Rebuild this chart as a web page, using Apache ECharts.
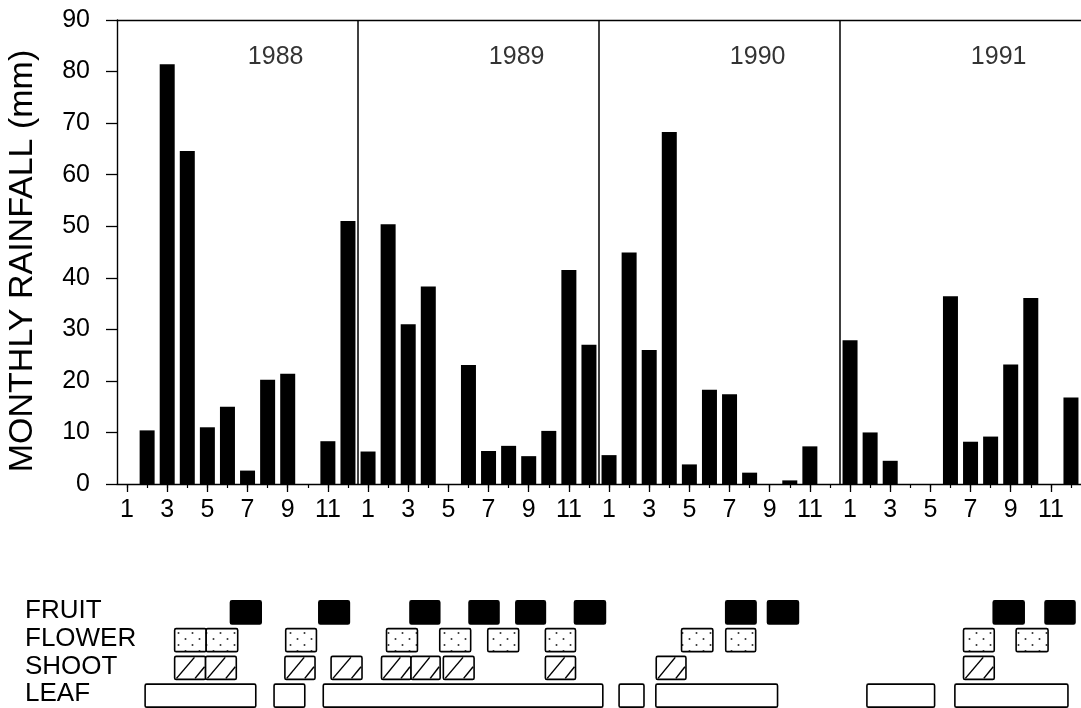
<!DOCTYPE html>
<html>
<head>
<meta charset="utf-8">
<title>Monthly rainfall and phenology 1988-1991</title>
<script src="https://cdn.jsdelivr.net/npm/echarts@6/dist/echarts.min.js"></script>
<style>
  html, body { margin: 0; padding: 0; background: #fff; }
  #chart { width: 1081px; height: 708px; }
</style>
</head>
<body>
<div id="chart"></div>
<script>
// ---- data ----
const years = ['1988', '1989', '1990', '1991'];
const months = ['1', '2', '3', '4', '5', '6', '7', '8', '9', '10', '11', '12'];
const yTicks = [0, 10, 20, 30, 40, 50, 60, 70, 80, 90];

// monthly rainfall (mm)
const rain1988 = [0, 10.4, 81.4, 64.6, 11.0, 15.0, 2.6, 20.2, 21.4, 0, 8.3, 51.0];
const rain1989 = [6.3, 50.4, 31.0, 38.3, 0, 23.1, 6.4, 7.4, 5.4, 10.3, 41.5, 27.0];
const rain1990 = [5.6, 44.9, 26.0, 68.3, 3.8, 18.3, 17.4, 2.2, 0, 0.7, 7.3, 0];
const rain1991 = [27.9, 10.0, 4.5, 0, 0, 36.4, 8.2, 9.2, 23.2, 36.1, 0, 16.8];

// phenology rows and their periods, in months counted from the start of Jan 1988
const phenoRows = ['FRUIT', 'FLOWER', 'SHOOT', 'LEAF'];
const fruitPeriods = [[5.65, 7.18], [10.05, 11.57], [14.59, 16.07], [17.53, 19.02], [19.86, 21.33],
  [22.78, 24.32], [30.31, 31.82], [32.39, 33.93], [43.63, 45.17], [46.21, 47.70]];
const flowerPeriods = [[2.87, 4.44], [4.44, 6.01], [8.40, 9.93], [13.42, 14.96], [16.07, 17.61],
  [18.46, 20.00], [21.33, 22.83], [28.11, 29.67], [30.31, 31.80], [42.15, 43.68], [44.77, 46.36]];
const shootPeriods = [[2.87, 4.41], [4.41, 5.94], [8.36, 9.86], [10.66, 12.20], [13.17, 14.64],
  [14.64, 16.09], [16.25, 17.78], [21.33, 22.83], [26.85, 28.33], [42.15, 43.68]];
const leafPeriods = [[1.40, 6.91], [7.82, 9.35], [10.27, 24.19], [25.00, 26.24], [26.83, 32.89],
  [37.34, 40.71], [41.72, 47.35]];

// ---- derived series ----
const categories = [];
years.forEach(y => months.forEach(m => categories.push(y + '-' + m)));
const rainfall = [].concat(rain1988, rain1989, rain1990, rain1991);
const phenoData = [];
[fruitPeriods, flowerPeriods, shootPeriods, leafPeriods].forEach((list, row) => {
  list.forEach(p => phenoData.push([p[0], p[1], row]));
});
const yearLabels = years.map((y, i) => ({ value: [i * 12 + 7.9, 82.8], name: y }));
const yearBreaks = years.slice(1).map((y, i) => ({ xAxis: (i + 1) * 12 }));

// ---- styles ----
const FONT = '"Liberation Sans", Arial, Helvetica, sans-serif';
const INK = '#000';

// stipple pattern for flowering
const dotCanvas = document.createElement('canvas');
dotCanvas.width = 14; dotCanvas.height = 12;
(function () {
  const c = dotCanvas.getContext('2d');
  c.fillStyle = '#fff';
  c.fillRect(0, 0, 14, 12);
  c.fillStyle = '#333';
  c.beginPath(); c.arc(3.5, 3, 1, 0, Math.PI * 2); c.fill();
  c.beginPath(); c.arc(10.5, 9, 1, 0, Math.PI * 2); c.fill();
})();

function renderPheno(params, api) {
  const row = api.value(2);
  const a = api.coord([api.value(0), row]);
  const b = api.coord([api.value(1), row]);
  const h = 23;
  const x0 = a[0], w = b[0] - a[0];
  const y0 = a[1] - h / 2 + 1.5, y1 = y0 + h;
  const kids = [];
  let fill = '#fff';
  if (row === 0) fill = INK;
  if (row === 1) fill = { image: dotCanvas, repeat: 'repeat' };
  kids.push({
    type: 'rect',
    shape: { x: x0, y: y0, width: w, height: h, r: 1.5 },
    style: { fill: fill, stroke: INK, lineWidth: 1.6 }
  });
  if (row === 2) {
    // two diagonal hatch strokes
    kids.push({
      type: 'line',
      shape: { x1: x0 + 0.06 * w, y1: y1 - 1, x2: x0 + 0.64 * w, y2: y0 + 1 },
      style: { stroke: INK, lineWidth: 1.5 }
    });
    kids.push({
      type: 'line',
      shape: { x1: x0 + 0.66 * w, y1: y1 - 1, x2: x0 + w - 1, y2: y1 - 0.55 * h },
      style: { stroke: INK, lineWidth: 1.5 }
    });
  }
  return { type: 'group', children: kids };
}

const chart = echarts.init(document.getElementById('chart'), null, { renderer: 'canvas' });

const option = {
  backgroundColor: '#fff',
  animation: false,
  textStyle: { fontFamily: FONT, color: INK },
  grid: [
    { left: 117, top: 20, width: 969, height: 464 },
    { left: 117, top: 597, width: 969, height: 111 }
  ],
  xAxis: [
    { // month axis with labels on odd months
      type: 'category', gridIndex: 0, data: categories, position: 'bottom',
      axisLine: { show: true, lineStyle: { color: INK, width: 1.4 } },
      axisTick: { show: true, alignWithLabel: true, length: 8, interval: i => i % 2 === 0,
        lineStyle: { color: INK, width: 1.3 } },
      axisLabel: { interval: i => i % 2 === 0, formatter: v => v.split('-')[1],
        fontSize: 25, color: INK, fontFamily: FONT, margin: 14 },
      splitLine: { show: false }
    },
    { // short ticks for every month
      type: 'category', gridIndex: 0, data: categories, position: 'bottom',
      axisLine: { show: false },
      axisTick: { show: true, alignWithLabel: true, length: 4, interval: 0,
        lineStyle: { color: INK, width: 1.2 } },
      axisLabel: { show: false }, splitLine: { show: false }
    },
    { // top frame line
      type: 'category', gridIndex: 0, data: categories, position: 'top',
      axisLine: { show: true, lineStyle: { color: INK, width: 1.3 } },
      axisTick: { show: false }, axisLabel: { show: false }, splitLine: { show: false }
    },
    { // continuous month scale for year dividers and year labels
      type: 'value', gridIndex: 0, min: 0, max: 48, show: false
    },
    { // continuous month scale for the phenology rows
      type: 'value', gridIndex: 1, min: 0, max: 48, show: false
    }
  ],
  yAxis: [
    {
      type: 'value', gridIndex: 0, min: yTicks[0], max: yTicks[yTicks.length - 1], interval: 10,
      axisLine: { show: true, lineStyle: { color: INK, width: 1.4 } },
      axisTick: { show: true, length: 11, lineStyle: { color: INK, width: 1.3 } },
      axisLabel: { fontSize: 25, color: INK, fontFamily: FONT, margin: 27 },
      splitLine: { show: false }
    },
    {
      type: 'category', gridIndex: 1, data: phenoRows, inverse: true,
      axisLine: { show: false }, axisTick: { show: false }, splitLine: { show: false },
      axisLabel: { interval: 0, hideOverlap: false, fontSize: 26, color: INK, fontFamily: FONT,
        align: 'left', margin: 92, padding: [0, 0, 6, 0] }
    }
  ],
  graphic: [
    {
      type: 'text', x: 23, y: 261, rotation: Math.PI / 2,
      style: { text: 'MONTHLY RAINFALL (mm)', fontSize: 34, fontFamily: FONT, fill: INK,
        textAlign: 'center', textVerticalAlign: 'middle' }
    }
  ],
  series: [
    {
      name: 'rainfall', type: 'bar', xAxisIndex: 0, yAxisIndex: 0,
      data: rainfall, barWidth: 15,
      itemStyle: { color: INK },
      silent: true
    },
    {
      name: 'years', type: 'scatter', xAxisIndex: 3, yAxisIndex: 0,
      data: yearLabels, symbolSize: 0, silent: true,
      label: { show: true, position: 'inside', formatter: p => p.name,
        fontSize: 25, color: INK, fontFamily: FONT },
      markLine: {
        silent: true, symbol: ['none', 'none'],
        label: { show: false },
        lineStyle: { color: INK, width: 1.5, type: 'solid' },
        data: yearBreaks
      }
    },
    {
      name: 'phenology', type: 'custom', xAxisIndex: 4, yAxisIndex: 1,
      renderItem: renderPheno,
      encode: { x: [0, 1], y: 2 },
      data: phenoData, silent: true
    }
  ]
};

chart.setOption(option);
</script>
</body>
</html>
